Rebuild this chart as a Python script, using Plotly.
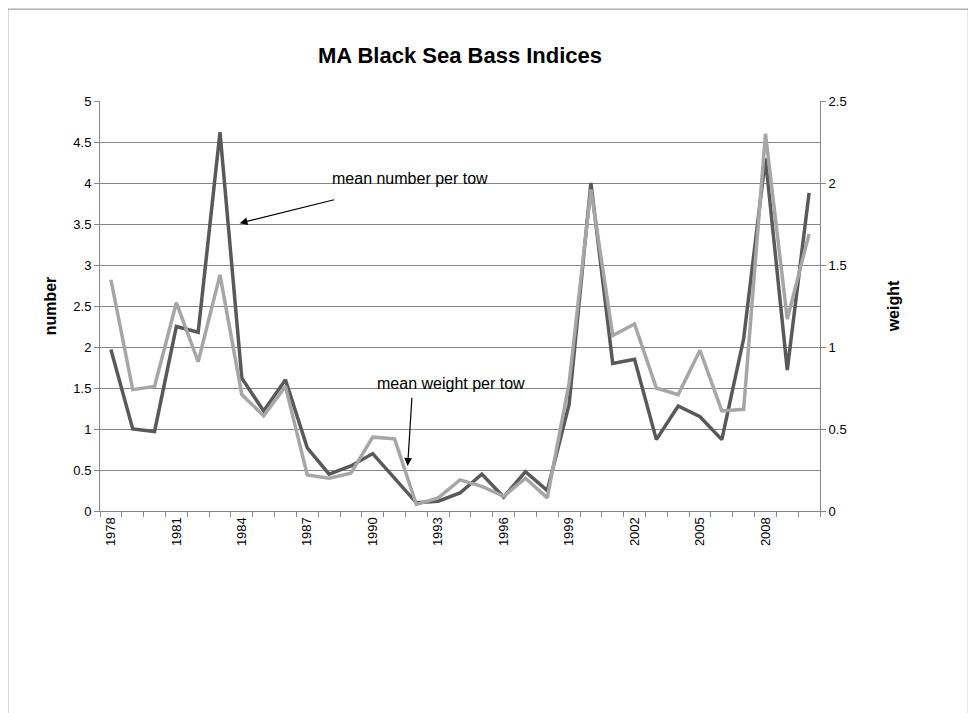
import plotly.graph_objects as go

years = list(range(1978, 2011))
mean_number = [1.97, 1.0, 0.97, 2.25, 2.18, 4.62, 1.62, 1.22, 1.6, 0.77, 0.45, 0.55, 0.7, 0.4, 0.1,
               0.12, 0.22, 0.45, 0.17, 0.48, 0.25, 1.3, 4.0, 1.8, 1.85, 0.87, 1.28, 1.15, 0.87, 2.1,
               4.3, 1.72, 3.88]
mean_weight = [1.41, 0.74, 0.76, 1.27, 0.91, 1.44, 0.71, 0.58, 0.76, 0.22, 0.2, 0.23, 0.45, 0.44, 0.04,
               0.08, 0.19, 0.15, 0.09, 0.2, 0.08, 0.78, 1.96, 1.07, 1.14, 0.75, 0.71, 0.98, 0.61, 0.62,
               2.3, 1.17, 1.69]
tick_years = list(range(1978, 2010, 3))

fig = go.Figure()
fig.add_trace(go.Scatter(x=years, y=mean_number, mode="lines", line=dict(color="#595959", width=3.5)))
fig.add_trace(go.Scatter(x=years, y=mean_weight, mode="lines", yaxis="y2",
                         line=dict(color="#a6a6a6", width=3.5)))

fnt = dict(family="Liberation Sans, Arial", size=13, color="#000")
fig.update_layout(
    width=976, height=713, showlegend=False,
    paper_bgcolor="white", plot_bgcolor="white",
    margin=dict(l=92, r=164, t=93, b=210),
    font=fnt,
    title=dict(text="<b>MA Black Sea Bass Indices</b>", x=0.5, xref="paper", y=0.945,
               font=dict(family="Liberation Sans, Arial", size=22)),
    xaxis=dict(range=[1977.5, 2010.5], tickvals=tick_years, tickangle=-90, showgrid=False,
               showline=True, linecolor="#868686", ticks="",
               minor=dict(ticks="outside", tick0=1977.5, dtick=1, ticklen=5, tickcolor="#868686")),
    yaxis=dict(range=[0, 5], dtick=0.5, showgrid=True, gridcolor="#868686", showline=True,
               linecolor="#868686", ticks="outside", ticklen=5, tickcolor="#868686",
               title=dict(text="<b>number</b>", font=dict(size=16), standoff=12)),
    yaxis2=dict(range=[0, 2.5], dtick=0.5, overlaying="y", side="right", showgrid=False,
                showline=True, linecolor="#868686", ticks="outside", ticklen=5, tickcolor="#868686",
                title=dict(text="<b>weight</b>", font=dict(size=16), standoff=42)),
)
fig.add_shape(type="rect", xref="paper", yref="paper", x0=-0.128, x1=1.206, y0=-0.6, y1=1.224,
              line=dict(color="#868686", width=1))
fig.add_annotation(text="mean number per tow", x=1991.7, y=4.05, showarrow=False,
                   font=dict(size=16))
fig.add_annotation(text="mean weight per tow", x=1993.6, y=1.56, showarrow=False,
                   font=dict(size=16))
fig.add_annotation(x=1983.9, y=3.51, ax=1988.3, ay=3.8, axref="x", ayref="y", text="",
                   showarrow=True, arrowhead=2, arrowsize=1.3, arrowwidth=1.2, arrowcolor="#000")
fig.add_annotation(x=1991.6, y=0.55, ax=1991.8, ay=1.4, axref="x", ayref="y", text="",
                   showarrow=True, arrowhead=2, arrowsize=1.3, arrowwidth=1.2, arrowcolor="#000")
fig.write_html("out.html")
